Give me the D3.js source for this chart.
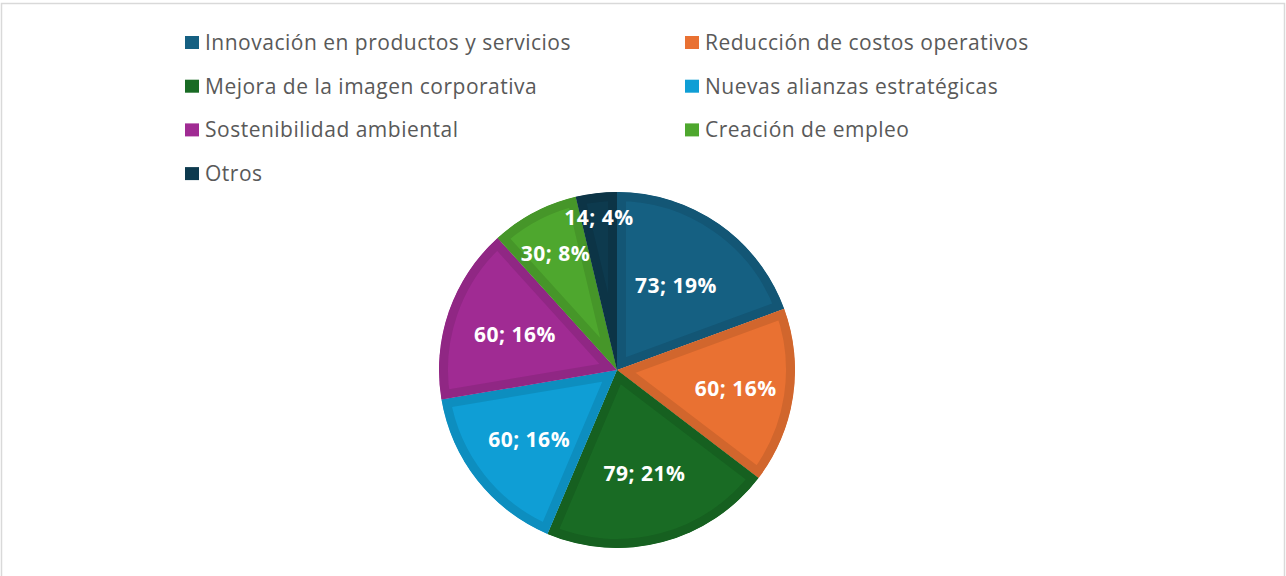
<!DOCTYPE html>
<html>
<head>
<meta charset="utf-8">
<script src="https://cdn.jsdelivr.net/npm/d3@7"></script>
<style>
  body { margin: 0; background: #fff; }
  svg { display: block; }
</style>
</head>
<body>
<div class="chart"></div>
<script>
// chart data
var categories = ["Innovación en productos y servicios", "Reducción de costos operativos",
  "Mejora de la imagen corporativa", "Nuevas alianzas estratégicas",
  "Sostenibilidad ambiental", "Creación de empleo", "Otros"];
var values = [73, 60, 79, 60, 60, 30, 14];
var colors = ["#156082", "#E97132", "#196B24", "#0F9ED5", "#A02B93", "#4EA72E", "#0D3A4E"];

// label distance from centre (best fit)
var labelR = [103, 120, 107, 112, 108, 132, 154];

var width = 1286, height = 576;
var cx = 617, cy = 370, radius = 178;

var svg = d3.select(".chart")
  .append("svg")
    .attr("width", width)
    .attr("height", height);

// chart frame
svg.append("rect")
  .attr("x", 1.5).attr("y", 3.5)
  .attr("width", 1283).attr("height", 600)
  .style("fill", "none")
  .style("stroke", "#d9d9d9")
  .style("stroke-width", 1.5);

var total = d3.sum(values);
var pie = d3.pie().sort(null).value(function(d) { return d; });
var arcs = pie(values);
var arc = d3.arc().innerRadius(0).outerRadius(radius);

var g = svg.append("g").attr("transform", "translate(" + cx + "," + cy + ")");
var defs = svg.append("defs");

arcs.forEach(function(a, i) {
  defs.append("clipPath").attr("id", "clip" + i)
    .append("path").attr("d", arc(a));
});

// slices with darker inner band
g.selectAll("path.slice")
  .data(arcs)
  .enter().append("path")
    .attr("class", "slice")
    .attr("d", arc)
    .attr("clip-path", function(d, i) { return "url(#clip" + i + ")"; })
    .style("fill", function(d, i) { return colors[i]; })
    .style("stroke", function(d, i) { return d3.color(colors[i]).darker(0.3); })
    .style("stroke-width", 18)
    .style("stroke-linejoin", "miter");

// data labels
g.selectAll("text.lbl")
  .data(arcs)
  .enter().append("text")
    .attr("class", "lbl")
    .attr("x", function(d, i) { var m = (d.startAngle + d.endAngle) / 2; return Math.sin(m) * labelR[i]; })
    .attr("y", function(d, i) { var m = (d.startAngle + d.endAngle) / 2; return -Math.cos(m) * labelR[i]; })
    .attr("dy", "0.36em")
    .attr("text-anchor", "middle")
    .style("font-family", "'Open Sans', Arial, sans-serif")
    .style("font-size", "21px")
    .style("font-weight", "bold")
    .style("letter-spacing", "0.5px")
    .style("fill", "#fff")
    .text(function(d) { return d.data + "; " + Math.round(d.data / total * 100) + "%"; });

// legend, two columns
var legend = svg.append("g");
var item = legend.selectAll("g")
  .data(categories)
  .enter().append("g")
    .attr("transform", function(d, i) {
      return "translate(" + (i % 2 ? 685 : 185) + "," + (42.5 + Math.floor(i / 2) * 43.7) + ")";
    });

item.append("rect")
  .attr("x", 0).attr("y", -6.5)
  .attr("width", 14).attr("height", 13)
  .style("fill", function(d, i) { return colors[i]; });

item.append("text")
  .attr("x", 20)
  .attr("dy", "0.35em")
  .style("font-family", "'Open Sans', Arial, sans-serif")
  .style("font-size", "21px")
  .style("letter-spacing", "0.5px")
  .style("fill", "#595959")
  .text(function(d) { return d; });
</script>
</body>
</html>
